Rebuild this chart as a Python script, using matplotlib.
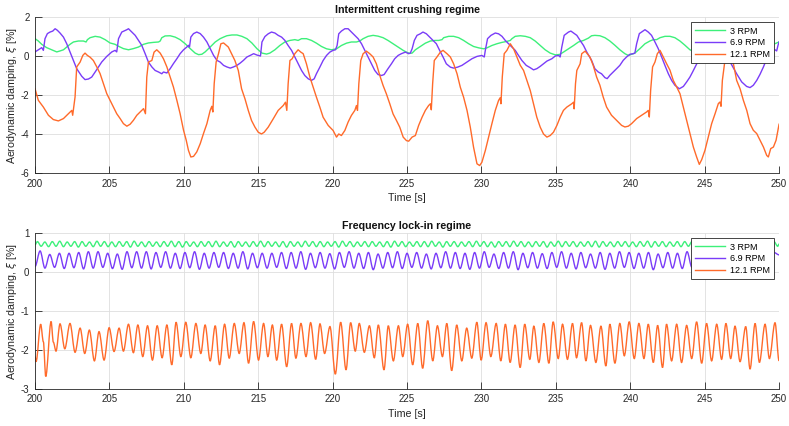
import numpy as np
import matplotlib.pyplot as plt
from matplotlib.path import Path
from matplotlib.patches import PathPatch
from matplotlib.lines import Line2D

plt.rcParams['font.family'] = ['Liberation Sans', 'DejaVu Sans']
plt.rcParams['axes.unicode_minus'] = False

labels = ['3 RPM', '6.9 RPM', '12.1 RPM']
colors = ['#3df07a', '#7a3cf8', '#ff6a2a']

# ---------- Intermittent crushing regime ----------
t_top_3 = [200.00, 200.22, 200.45, 200.78, 201.12, 201.46, 201.68, 201.91, 202.13, 202.35,
           202.58, 202.91, 203.25, 203.43, 203.52, 203.70, 204.04, 204.37, 204.71, 205.04,
           205.38, 205.61, 205.94, 206.28, 206.61, 206.95, 207.29, 207.62, 207.96, 208.30,
           208.41, 208.52, 208.74, 209.08, 209.42, 209.75, 210.09, 210.43, 210.76, 210.99,
           211.21, 211.43, 211.77, 212.11, 212.44, 212.67, 212.89, 213.23, 213.57, 213.90,
           214.24, 214.57, 214.91, 215.25, 215.56, 215.78, 216.12, 216.45, 216.79, 217.13,
           217.46, 217.68, 217.91, 218.24, 218.58, 218.91, 219.25, 219.59, 219.92, 220.26,
           220.59, 220.93, 221.26, 221.60, 221.82, 222.05, 222.38, 222.72, 223.05, 223.39,
           223.72, 224.06, 224.40, 224.74, 224.96, 225.15, 225.34, 225.56, 225.89, 226.23,
           226.57, 226.90, 227.13, 227.35, 227.46, 227.80, 228.13, 228.47, 228.80, 229.14,
           229.47, 229.81, 230.15, 230.37, 230.70, 231.04, 231.38, 231.71, 231.94, 232.05,
           232.27, 232.61, 232.95, 233.28, 233.61, 233.95, 234.28, 234.62, 234.96, 235.25,
           235.51, 235.85, 236.19, 236.52, 236.86, 237.19, 237.40, 237.62, 237.96, 238.30,
           238.63, 238.97, 239.30, 239.64, 239.87, 240.09, 240.31, 240.65, 240.99, 241.32,
           241.55, 241.77, 242.00, 242.33, 242.67, 243.00, 243.34, 243.68, 244.01, 244.19,
           244.60, 245.00, 245.50, 246.20, 246.80, 247.40, 248.00, 248.60, 249.10, 249.40,
           249.62, 250.00]
xi_top_3 = [0.89, 0.77, 0.60, 0.43, 0.32, 0.21, 0.26, 0.32, 0.46, 0.60,
            0.72, 0.77, 0.77, 0.72, 0.84, 0.94, 1.01, 0.97, 0.84, 0.67,
            0.60, 0.50, 0.38, 0.32, 0.38, 0.46, 0.60, 0.67, 0.70, 0.72,
            0.77, 0.94, 1.03, 1.04, 0.97, 0.84, 0.63, 0.38, 0.15, 0.07,
            0.09, 0.21, 0.46, 0.72, 0.89, 0.97, 1.04, 1.08, 1.08, 1.01,
            0.89, 0.67, 0.38, 0.15, 0.10, 0.15, 0.32, 0.54, 0.72, 0.80,
            0.84, 0.80, 0.89, 0.89, 0.80, 0.66, 0.49, 0.37, 0.32, 0.37,
            0.54, 0.66, 0.72, 0.72, 0.77, 0.89, 1.01, 1.06, 1.02, 0.94,
            0.80, 0.63, 0.46, 0.29, 0.20, 0.14, 0.15, 0.32, 0.49, 0.66,
            0.77, 0.80, 0.80, 0.84, 0.94, 1.01, 1.01, 0.94, 0.80, 0.63,
            0.49, 0.42, 0.37, 0.42, 0.54, 0.63, 0.70, 0.75, 0.80, 0.89,
            1.01, 1.04, 1.01, 0.94, 0.77, 0.54, 0.32, 0.15, 0.06, 0.08,
            0.20, 0.37, 0.54, 0.72, 0.80, 0.92, 1.04, 1.06, 1.04, 0.94,
            0.77, 0.55, 0.32, 0.12, 0.03, 0.09, 0.15, 0.38, 0.63, 0.77,
            0.84, 0.84, 0.94, 1.01, 1.01, 0.94, 0.77, 0.55, 0.32, 0.26,
            0.10, 0.05, 0.25, 0.65, 0.95, 1.02, 0.90, 0.55, 0.25, 0.40,
            0.60, 0.72]

t_top_69 = [200.00, 200.22, 200.45, 200.56, 200.67, 200.83, 201.01, 201.19, 201.35, 201.50,
            201.68, 201.91, 202.13, 202.35, 202.58, 202.80, 203.14, 203.36, 203.59, 203.81,
            204.04, 204.26, 204.48, 204.82, 205.16, 205.38, 205.49, 205.61, 205.83, 206.17,
            206.28, 206.50, 206.73, 206.95, 207.17, 207.40, 207.62, 207.85, 208.07, 208.30,
            208.52, 208.63, 208.86, 209.08, 209.30, 209.53, 209.75, 209.98, 210.20, 210.31,
            210.38, 210.47, 210.65, 210.87, 211.10, 211.32, 211.55, 211.77, 212.00, 212.22,
            212.44, 212.67, 212.89, 213.12, 213.34, 213.57, 213.79, 214.01, 214.24, 214.46,
            214.69, 214.91, 215.15, 215.25, 215.45, 215.67, 215.89, 216.12, 216.34, 216.57,
            216.79, 217.01, 217.24, 217.46, 217.68, 217.91, 218.13, 218.36, 218.58, 218.76,
            218.91, 219.14, 219.36, 219.59, 219.81, 220.03, 220.19, 220.30, 220.41, 220.59,
            220.82, 221.04, 221.26, 221.49, 221.71, 221.94, 222.16, 222.38, 222.61, 222.83,
            223.05, 223.28, 223.46, 223.72, 223.95, 224.17, 224.40, 224.62, 224.89, 225.11,
            225.22, 225.34, 225.49, 225.67, 225.89, 226.07, 226.30, 226.52, 226.74, 226.97,
            227.19, 227.42, 227.64, 227.91, 228.13, 228.40, 228.69, 229.03, 229.36, 229.70,
            230.03, 230.19, 230.26, 230.41, 230.64, 230.93, 231.15, 231.38, 231.60, 231.82,
            232.05, 232.27, 232.49, 232.72, 233.01, 233.28, 233.50, 233.72, 233.95, 234.17,
            234.40, 234.73, 234.96, 235.18, 235.29, 235.40, 235.56, 235.85, 236.01, 236.19,
            236.41, 236.63, 236.86, 237.08, 237.40, 237.62, 237.85, 238.07, 238.30, 238.45,
            238.63, 238.86, 239.08, 239.30, 239.53, 239.75, 239.98, 240.20, 240.31, 240.43,
            240.61, 240.76, 240.99, 241.21, 241.43, 241.66, 241.88, 242.11, 242.33, 242.56,
            242.78, 243.00, 243.30, 243.57, 243.79, 244.01, 244.19, 244.60, 245.00, 245.30,
            245.50, 245.90, 246.40, 246.60, 246.77, 247.15, 247.49, 247.82, 248.05, 248.27,
            248.50, 248.72, 248.95, 249.17, 249.35, 249.51, 249.73, 249.84, 249.93, 250.00]
xi_top_69 = [0.21, 0.32, 0.43, 0.29, 0.89, 1.15, 1.23, 1.28, 1.40, 1.32,
             1.18, 0.97, 0.63, 0.21, -0.22, -0.65, -1.04, -1.21, -1.18, -1.08,
             -0.82, -0.56, -0.31, -0.02, 0.21, 0.29, 0.21, 0.89, 1.23, 1.35,
             1.40, 1.23, 1.06, 0.80, 0.55, 0.12, -0.31, -0.56, -0.74, -0.82,
             -0.91, -0.82, -0.87, -0.65, -0.39, -0.14, 0.12, 0.32, 0.46, 0.55,
             0.46, 0.97, 1.15, 1.23, 1.15, 0.97, 0.72, 0.38, 0.03, -0.22,
             -0.31, -0.48, -0.56, -0.62, -0.56, -0.48, -0.36, -0.22, -0.05, 0.03,
             0.12, 0.05, 0.00, 0.72, 1.00, 1.14, 1.23, 1.18, 1.06, 0.97,
             0.80, 0.54, 0.29, -0.05, -0.40, -0.74, -1.00, -1.17, -1.25, -1.17,
             -0.91, -0.57, -0.23, 0.03, 0.20, 0.29, 0.32, 0.54, 1.14, 1.28,
             1.40, 1.40, 1.23, 1.06, 0.89, 0.63, 0.29, -0.05, -0.40, -0.74,
             -0.95, -1.00, -0.95, -0.65, -0.40, -0.14, 0.03, 0.12, 0.20, 0.12,
             0.15, 0.37, 0.80, 1.06, 1.14, 1.23, 1.14, 0.97, 0.80, 0.63,
             0.29, -0.05, -0.40, -0.57, -0.62, -0.57, -0.48, -0.31, -0.14, -0.02,
             0.03, -0.05, 0.29, 0.89, 1.06, 1.18, 1.14, 1.01, 0.80, 0.63,
             0.46, 0.29, 0.03, -0.23, -0.48, -0.60, -0.71, -0.65, -0.53, -0.40,
             -0.26, -0.14, 0.00, 0.03, -0.05, 0.46, 1.06, 1.23, 1.28, 1.18,
             1.06, 0.80, 0.54, 0.20, -0.22, -0.65, -0.82, -0.91, -1.11, -1.16,
             -0.99, -0.82, -0.65, -0.48, -0.22, -0.05, 0.09, 0.12, 0.15, 0.63,
             1.15, 1.23, 1.35, 1.23, 1.06, 0.72, 0.38, -0.05, -0.48, -0.91,
             -1.25, -1.50, -1.68, -1.56, -1.33, -1.08, -0.82, -0.20, 0.30, 0.40,
             1.00, 1.30, 0.90, 0.20, -0.39, -0.91, -1.33, -1.56, -1.62, -1.50,
             -1.25, -0.94, -0.56, -0.14, 0.12, 0.29, 0.32, 0.26, 0.55, 0.72]

t_top_121 = [200.00, 200.22, 200.56, 200.90, 201.23, 201.57, 201.91, 202.24, 202.47, 202.53,
             202.69, 202.80, 203.03, 203.21, 203.36, 203.52, 203.70, 203.92, 204.15, 204.37,
             204.60, 204.82, 205.04, 205.27, 205.49, 205.72, 205.94, 206.17, 206.39, 206.61,
             206.84, 207.06, 207.29, 207.42, 207.51, 207.62, 207.85, 208.00, 208.18, 208.41,
             208.63, 208.86, 209.08, 209.30, 209.53, 209.75, 209.98, 210.16, 210.31, 210.47,
             210.65, 210.87, 211.10, 211.32, 211.55, 211.77, 211.88, 211.95, 212.04, 212.17,
             212.33, 212.49, 212.67, 212.99, 213.21, 213.43, 213.66, 213.88, 214.11, 214.33,
             214.55, 214.78, 215.00, 215.22, 215.40, 215.67, 216.01, 216.34, 216.68, 216.83,
             216.92, 217.01, 217.13, 217.28, 217.46, 217.68, 217.86, 218.02, 218.24, 218.47,
             218.69, 218.91, 219.14, 219.36, 219.70, 220.03, 220.26, 220.41, 220.59, 220.82,
             221.04, 221.26, 221.49, 221.60, 221.67, 221.76, 221.89, 222.05, 222.27, 222.49,
             222.72, 222.94, 223.17, 223.39, 223.61, 223.84, 224.06, 224.29, 224.51, 224.74,
             224.96, 225.11, 225.34, 225.56, 225.78, 226.01, 226.23, 226.45, 226.57, 226.63,
             226.72, 226.83, 227.01, 227.24, 227.42, 227.68, 227.91, 228.13, 228.36, 228.58,
             228.80, 229.03, 229.25, 229.47, 229.70, 229.88, 230.03, 230.26, 230.48, 230.70,
             230.93, 231.15, 231.26, 231.31, 231.40, 231.53, 231.71, 231.94, 232.16, 232.38,
             232.61, 232.83, 233.05, 233.28, 233.50, 233.72, 233.95, 234.17, 234.40, 234.62,
             234.84, 235.07, 235.29, 235.51, 235.74, 236.07, 236.19, 236.23, 236.32, 236.41,
             236.63, 236.74, 236.97, 237.29, 237.51, 237.74, 237.96, 238.18, 238.41, 238.74,
             239.08, 239.42, 239.64, 239.87, 240.09, 240.43, 240.76, 241.10, 241.21, 241.28,
             241.37, 241.50, 241.66, 241.82, 242.00, 242.22, 242.44, 242.67, 242.89, 243.12,
             243.34, 243.57, 243.79, 244.01, 244.24, 244.46, 244.64, 244.80, 245.02, 245.25,
             245.47, 245.70, 245.92, 246.03, 246.10, 246.19, 246.35, 246.70, 246.93, 247.15,
             247.38, 247.60, 247.83, 248.05, 248.27, 248.50, 248.72, 248.95, 249.17, 249.28,
             249.44, 249.62, 249.80, 250.00]
xi_top_121 = [-1.68, -2.27, -2.62, -3.04, -3.26, -3.33, -3.21, -2.96, -2.79, -3.04,
              -2.10, -0.56, -0.31, 0.03, 0.15, 0.03, -0.06, -0.23, -0.56, -0.90,
              -1.42, -1.93, -2.27, -2.62, -2.96, -3.21, -3.47, -3.60, -3.50, -3.30,
              -3.04, -2.87, -2.70, -2.96, -1.08, -0.31, -0.23, 0.20, 0.32, 0.15,
              -0.14, -0.56, -1.08, -1.59, -2.27, -2.96, -3.81, -4.32, -4.84, -5.18,
              -5.15, -4.92, -4.50, -3.98, -3.47, -2.79, -2.58, -2.87, -1.42, -0.31,
              0.12, 0.63, 0.67, 0.46, 0.12, -0.23, -0.74, -1.68, -2.20, -2.79,
              -3.31, -3.65, -3.91, -4.00, -3.91, -3.65, -3.22, -2.79, -2.54, -2.37,
              -2.79, -1.42, -0.23, -0.14, 0.12, 0.32, 0.20, 0.12, -0.40, -1.08,
              -1.60, -2.11, -2.62, -3.14, -3.56, -3.82, -4.16, -4.00, -4.08, -3.82,
              -3.39, -3.05, -2.79, -2.54, -2.79, -1.42, -0.23, 0.12, 0.25, 0.12,
              -0.05, -0.40, -1.00, -1.51, -1.94, -2.45, -2.97, -3.31, -3.65, -4.16,
              -4.34, -4.37, -4.16, -4.08, -3.56, -3.14, -2.79, -2.54, -2.45, -2.76,
              -1.42, -0.23, -0.05, 0.20, 0.29, 0.12, -0.05, -0.40, -0.91, -1.60,
              -2.11, -2.79, -3.65, -4.68, -5.53, -5.62, -5.45, -4.85, -4.16, -3.48,
              -2.79, -2.28, -2.14, -2.45, -1.08, 0.12, 0.29, 0.63, 0.37, -0.05,
              -0.48, -0.74, -1.25, -1.77, -2.45, -3.14, -3.65, -4.00, -4.16, -4.08,
              -3.91, -3.56, -3.14, -2.79, -2.62, -2.45, -2.37, -2.71, -1.42, -0.74,
              -0.40, 0.12, 0.25, -0.05, -0.48, -1.08, -1.50, -2.10, -2.62, -3.04,
              -3.30, -3.56, -3.64, -3.60, -3.47, -3.21, -3.04, -2.87, -2.79, -3.13,
              -1.76, -0.56, -0.31, 0.12, 0.29, -0.05, -0.39, -0.73, -1.25, -1.59,
              -1.93, -2.62, -3.30, -3.98, -4.67, -5.18, -5.56, -5.32, -4.84, -4.15,
              -3.47, -2.96, -2.44, -2.36, -2.58, -1.25, -0.30, 0.40, -0.39, -1.25,
              -1.68, -2.27, -2.79, -3.47, -3.81, -3.98, -4.32, -4.67, -5.10, -5.18,
              -4.75, -4.67, -4.32, -3.50]

# ---------- Frequency lock-in regime ----------
# 3 RPM: value at 200 s, then alternating peak / trough values between the
# first peak (~200.16 s) and the last trough (~249.91 s), value at 250 s
bot_3_ends = (0.70, 0.72)
bot_3_span = (200.16, 249.91)
bot_3_peaks = [0.78, 0.77, 0.78, 0.79, 0.77, 0.78, 0.78, 0.77, 0.79, 0.78,
               0.77, 0.78, 0.78, 0.79, 0.77, 0.78, 0.77, 0.78, 0.79, 0.78,
               0.78, 0.77, 0.78, 0.78, 0.79, 0.77, 0.78, 0.78, 0.77, 0.78,
               0.79, 0.78, 0.77, 0.78, 0.78, 0.77, 0.79, 0.78, 0.78, 0.77,
               0.78, 0.79, 0.78, 0.77, 0.78, 0.78, 0.77, 0.78, 0.79, 0.78,
               0.77, 0.78, 0.78, 0.79, 0.77, 0.78, 0.78, 0.77, 0.78, 0.79,
               0.78, 0.77, 0.78, 0.78, 0.79, 0.78, 0.77, 0.78, 0.78, 0.77,
               0.79, 0.78, 0.78, 0.77, 0.78, 0.79, 0.78, 0.77, 0.78, 0.78,
               0.77, 0.78, 0.79, 0.78, 0.78, 0.77, 0.78, 0.78, 0.79, 0.77,
               0.78, 0.78, 0.77, 0.78, 0.79, 0.78, 0.77, 0.78, 0.78, 0.78]
bot_3_troughs = [0.66, 0.65, 0.66, 0.65, 0.66, 0.64, 0.66, 0.65, 0.66, 0.65,
                 0.65, 0.66, 0.64, 0.66, 0.65, 0.66, 0.65, 0.66, 0.65, 0.64,
                 0.66, 0.65, 0.66, 0.65, 0.65, 0.66, 0.64, 0.66, 0.65, 0.66,
                 0.65, 0.66, 0.65, 0.64, 0.66, 0.65, 0.66, 0.65, 0.65, 0.66,
                 0.64, 0.66, 0.65, 0.66, 0.65, 0.66, 0.65, 0.64, 0.66, 0.65,
                 0.66, 0.65, 0.65, 0.66, 0.64, 0.66, 0.65, 0.66, 0.65, 0.66,
                 0.65, 0.64, 0.66, 0.65, 0.66, 0.65, 0.65, 0.66, 0.64, 0.66,
                 0.65, 0.66, 0.65, 0.66, 0.65, 0.64, 0.66, 0.65, 0.66, 0.65,
                 0.65, 0.66, 0.64, 0.66, 0.65, 0.66, 0.65, 0.66, 0.65, 0.64,
                 0.66, 0.65, 0.66, 0.65, 0.65, 0.66, 0.64, 0.66, 0.65, 0.66]

# 6.9 RPM: first peak ~200.34 s, last trough ~249.66 s
bot_69_ends = (0.14, 0.44)
bot_69_span = (200.34, 249.66)
bot_69_peaks = [0.54, 0.45, 0.48, 0.48, 0.50, 0.52, 0.52, 0.48, 0.46, 0.52,
                0.52, 0.52, 0.50, 0.52, 0.48, 0.50, 0.52, 0.48, 0.50, 0.50,
                0.48, 0.52, 0.48, 0.48, 0.48, 0.50, 0.50, 0.52, 0.48, 0.50,
                0.47, 0.50, 0.52, 0.48, 0.50, 0.46, 0.50, 0.52, 0.48, 0.50,
                0.46, 0.48, 0.52, 0.50, 0.48, 0.50, 0.52, 0.46, 0.50, 0.52,
                0.48, 0.50, 0.47, 0.50, 0.52, 0.48, 0.50, 0.46, 0.50, 0.48,
                0.52, 0.50, 0.48, 0.50, 0.46, 0.50, 0.48, 0.52, 0.50, 0.48,
                0.46, 0.50, 0.48, 0.50, 0.48, 0.47, 0.50]
bot_69_troughs = [0.10, 0.12, 0.09, 0.11, 0.08, 0.10, 0.12, 0.09, 0.07, 0.11,
                  0.10, 0.08, 0.12, 0.10, 0.09, 0.11, 0.07, 0.10, 0.12, 0.09,
                  0.10, 0.08, 0.11, 0.10, 0.12, 0.09, 0.10, 0.07, 0.11, 0.10,
                  0.08, 0.12, 0.10, 0.09, 0.06, 0.10, 0.11, 0.09, 0.12, 0.10,
                  0.08, 0.11, 0.10, 0.09, 0.07, 0.10, 0.12, 0.09, 0.10, 0.06,
                  0.11, 0.10, 0.09, 0.12, 0.10, 0.08, 0.11, 0.10, 0.07, 0.10,
                  0.12, 0.09, 0.10, 0.06, 0.11, 0.10, 0.09, 0.12, 0.10, 0.08,
                  0.10, 0.09, 0.11, 0.10, 0.08, 0.10]

t_bot_121 = [200.00, 200.07, 200.38, 200.56, 200.72, 201.08, 201.23, 201.41, 201.68, 202.00,
             202.35, 202.69, 203.03, 203.34, 203.65, 203.99, 204.30, 204.64, 204.98, 205.31,
             205.65, 205.94, 206.28, 206.61, 206.91, 207.24, 207.56, 207.89, 208.21, 208.54,
             208.86, 209.19, 209.48, 209.80, 210.13, 210.47, 210.81, 211.14, 211.43, 211.77,
             212.11, 212.40, 212.74, 213.05, 213.39, 213.72, 214.04, 214.35, 214.69, 215.02,
             215.36, 215.65, 215.95, 216.24, 216.57, 216.91, 217.24, 217.53, 217.87, 218.21,
             218.52, 218.86, 219.15, 219.46, 219.82, 220.18, 220.54, 220.90, 221.21, 221.52,
             221.79, 222.13, 222.47, 222.80, 223.07, 223.45, 223.74, 224.08, 224.42, 224.71,
             225.04, 225.38, 225.72, 226.05, 226.39, 226.73, 227.04, 227.38, 227.67, 228.00,
             228.34, 228.68, 229.01, 229.35, 229.69, 229.98, 230.31, 230.63, 230.99, 231.30,
             231.61, 231.93, 232.26, 232.60, 232.91, 233.25, 233.52, 233.86, 234.19, 234.53,
             234.82, 235.16, 235.45, 235.78, 236.12, 236.39, 236.73, 237.02, 237.33, 237.69,
             238.03, 238.36, 238.63, 238.97, 239.30, 239.60, 239.93, 240.27, 240.58, 240.92,
             241.21, 241.55, 241.84, 242.17, 242.44, 242.78, 243.12, 243.45, 243.79, 244.13,
             244.46, 244.80, 245.13, 245.47, 245.81, 246.14, 246.43, 246.75, 247.04, 247.38,
             247.76, 248.05, 248.39, 248.68, 249.06, 249.35, 249.73, 250.00]
xi_bot_121 = [-2.17, -2.30, -1.34, -1.79, -2.68, -1.27, -1.80, -2.03, -1.33, -1.97,
              -1.32, -2.06, -1.44, -2.09, -1.49, -2.28, -1.53, -2.26, -1.43, -2.04,
              -1.44, -2.03, -1.34, -2.07, -1.36, -2.17, -1.38, -2.26, -1.38, -2.20,
              -1.36, -2.38, -1.29, -2.17, -1.29, -2.20, -1.32, -2.09, -1.36, -2.28,
              -1.38, -2.38, -1.34, -2.21, -1.32, -2.09, -1.30, -2.34, -1.27, -2.26,
              -1.32, -2.17, -1.36, -2.26, -1.34, -2.43, -1.32, -2.21, -1.32, -2.17,
              -1.30, -2.24, -1.33, -2.09, -1.40, -2.62, -1.29, -2.51, -1.30, -2.03,
              -1.32, -2.06, -1.38, -2.20, -1.36, -2.51, -1.38, -2.28, -1.38, -2.17,
              -1.34, -2.38, -1.32, -2.47, -1.25, -2.28, -1.38, -2.17, -1.32, -2.53,
              -1.36, -2.28, -1.44, -2.21, -1.29, -2.26, -1.30, -2.17, -1.32, -2.28,
              -1.34, -2.32, -1.36, -2.45, -1.34, -2.24, -1.39, -2.32, -1.32, -2.34,
              -1.28, -2.22, -1.34, -2.24, -1.32, -2.20, -1.30, -2.28, -1.37, -2.32,
              -1.39, -2.41, -1.34, -2.34, -1.32, -2.15, -1.28, -2.22, -1.32, -2.22,
              -1.34, -2.32, -1.37, -2.45, -1.34, -2.28, -1.34, -2.32, -1.37, -2.22,
              -1.28, -2.34, -1.32, -2.28, -1.34, -2.24, -1.32, -2.22, -1.39, -2.30,
              -1.40, -2.49, -1.32, -2.32, -1.34, -2.22, -1.30, -2.28]


def alternate(first, second, span, ends):
    vals = np.empty(len(first) + len(second))
    vals[0::2] = first
    vals[1::2] = second
    t = np.concatenate([[200.0], np.linspace(span[0], span[1], len(vals)), [250.0]])
    return t, np.concatenate([[ends[0]], vals, [ends[1]]])


t_b3, xi_b3 = alternate(bot_3_peaks, bot_3_troughs, bot_3_span, bot_3_ends)
t_b69, xi_b69 = alternate(bot_69_peaks, bot_69_troughs, bot_69_span, bot_69_ends)


def wave(ax, t, v, color):
    # smooth curve through the extrema (flat tangents), drawn in data coords
    t = np.asarray(t, float)
    v = np.asarray(v, float)
    verts = [(t[0], v[0])]
    codes = [Path.MOVETO]
    for i in range(1, len(t)):
        d = (t[i] - t[i - 1]) / 3
        verts += [(t[i - 1] + d, v[i - 1]), (t[i] - d, v[i]), (t[i], v[i])]
        codes += [Path.CURVE4] * 3
    ax.add_patch(PathPatch(Path(verts, codes), fill=False, edgecolor=color, lw=1.0))


def style(ax, ylim, yticks, title):
    ax.set_xlim(200, 250)
    ax.set_ylim(*ylim)
    ax.set_xticks(np.arange(200, 251, 5))
    ax.set_yticks(yticks)
    ax.grid(True, color='#dedede', linewidth=0.6)
    ax.set_axisbelow(True)
    for s in ['top', 'right']:
        ax.spines[s].set_visible(False)
    for s in ['left', 'bottom']:
        ax.spines[s].set_color('#262626')
        ax.spines[s].set_linewidth(0.6)
    ax.tick_params(direction='in', length=5, width=0.6, colors='#262626',
                   labelsize=7, pad=4)
    ax.set_title(title, fontsize=7.7, fontweight='bold', color='#111111', pad=3)
    ax.set_xlabel('Time [s]', fontsize=7.7, color='#262626', labelpad=3)
    ax.set_ylabel(r'Aerodynamic damping, $\xi$ [%]', fontsize=7.7, color='#262626')
    ax.yaxis.set_label_coords(-0.022, 0.5)
    handles = [Line2D([], [], color=c, lw=1.0) for c in colors]
    leg = ax.legend(handles, labels, loc='upper right', fontsize=6.5,
                    handlelength=3.3, borderaxespad=0.6, fancybox=False,
                    framealpha=1, edgecolor='#262626', borderpad=0.45,
                    labelspacing=0.3, handletextpad=0.5)
    leg.get_frame().set_linewidth(0.6)


fig = plt.figure(figsize=(7.89, 4.26), dpi=100)
ax1 = fig.add_axes([0.0444, 0.594, 0.943, 0.366])
ax2 = fig.add_axes([0.0444, 0.087, 0.943, 0.366])

ax1.plot(t_top_3, xi_top_3, color=colors[0], lw=1.0)
ax1.plot(t_top_69, xi_top_69, color=colors[1], lw=1.0)
ax1.plot(t_top_121, xi_top_121, color=colors[2], lw=1.0)
style(ax1, (-6, 2), [-6, -4, -2, 0, 2], 'Intermittent crushing regime')

wave(ax2, t_b3, xi_b3, colors[0])
wave(ax2, t_b69, xi_b69, colors[1])
wave(ax2, t_bot_121, xi_bot_121, colors[2])
style(ax2, (-3, 1), [-3, -2, -1, 0, 1], 'Frequency lock-in regime')

fig.savefig('out.png', dpi=100)
